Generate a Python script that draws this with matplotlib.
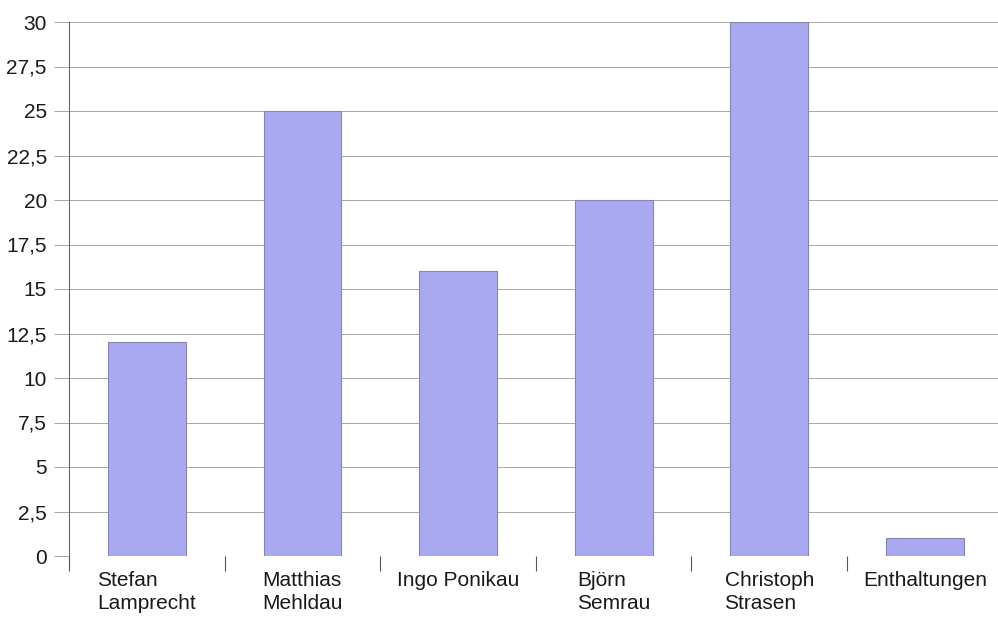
import numpy as np
import matplotlib.pyplot as plt
from matplotlib.ticker import FuncFormatter, FixedLocator

# Stimmen je Kandidat
kandidaten = ["Stefan\nLamprecht", "Matthias\nMehldau", "Ingo Ponikau",
              "Björn\nSemrau", "Christoph\nStrasen", "Enthaltungen"]
stimmen = [12, 25, 16, 20, 30, 1]
y_ticks = np.arange(0, 30.1, 2.5)

plt.rcParams['font.family'] = ['Liberation Sans', 'DejaVu Sans']

fig = plt.figure(figsize=(9.98, 6.23), dpi=100)
ax = fig.add_axes([69 / 998, (623 - 556) / 623, 929 / 998, 534 / 623])

x = np.arange(len(kandidaten))
ax.bar(x, stimmen, width=0.5, color="#a9a9f1", edgecolor="#8585b0",
       linewidth=0.8, zorder=3)

ax.set_ylim(0, 30)
ax.set_xlim(-0.5, -0.5 + 929 / 155.6)
ax.set_yticks(y_ticks)
ax.yaxis.set_major_formatter(FuncFormatter(
    lambda v, _: f"{v:g}".replace(".", ",")))
ax.grid(axis="y", color="#9a9a9a", linewidth=0.6, zorder=0)

ax.set_xticks(x)
ax.set_xticklabels(kandidaten, multialignment="left", linespacing=1.25)
ax.xaxis.set_minor_locator(FixedLocator(np.arange(-0.5, 5, 1.0)))
ax.tick_params(axis="x", which="major", length=0, pad=11, labelsize=15,
               labelcolor="#1a1a1a")
ax.tick_params(axis="x", which="minor", length=11, width=0.8, color="#555555")
ax.tick_params(axis="y", length=11, width=0.6, color="#9a9a9a", pad=5,
               labelsize=15, labelcolor="#1a1a1a")

for side in ["top", "right", "bottom"]:
    ax.spines[side].set_visible(False)
ax.spines["left"].set_color("#666666")
ax.spines["left"].set_linewidth(0.8)
ax.spines["left"].set_bounds(0, 30)

fig.savefig("out.png", dpi=100)
